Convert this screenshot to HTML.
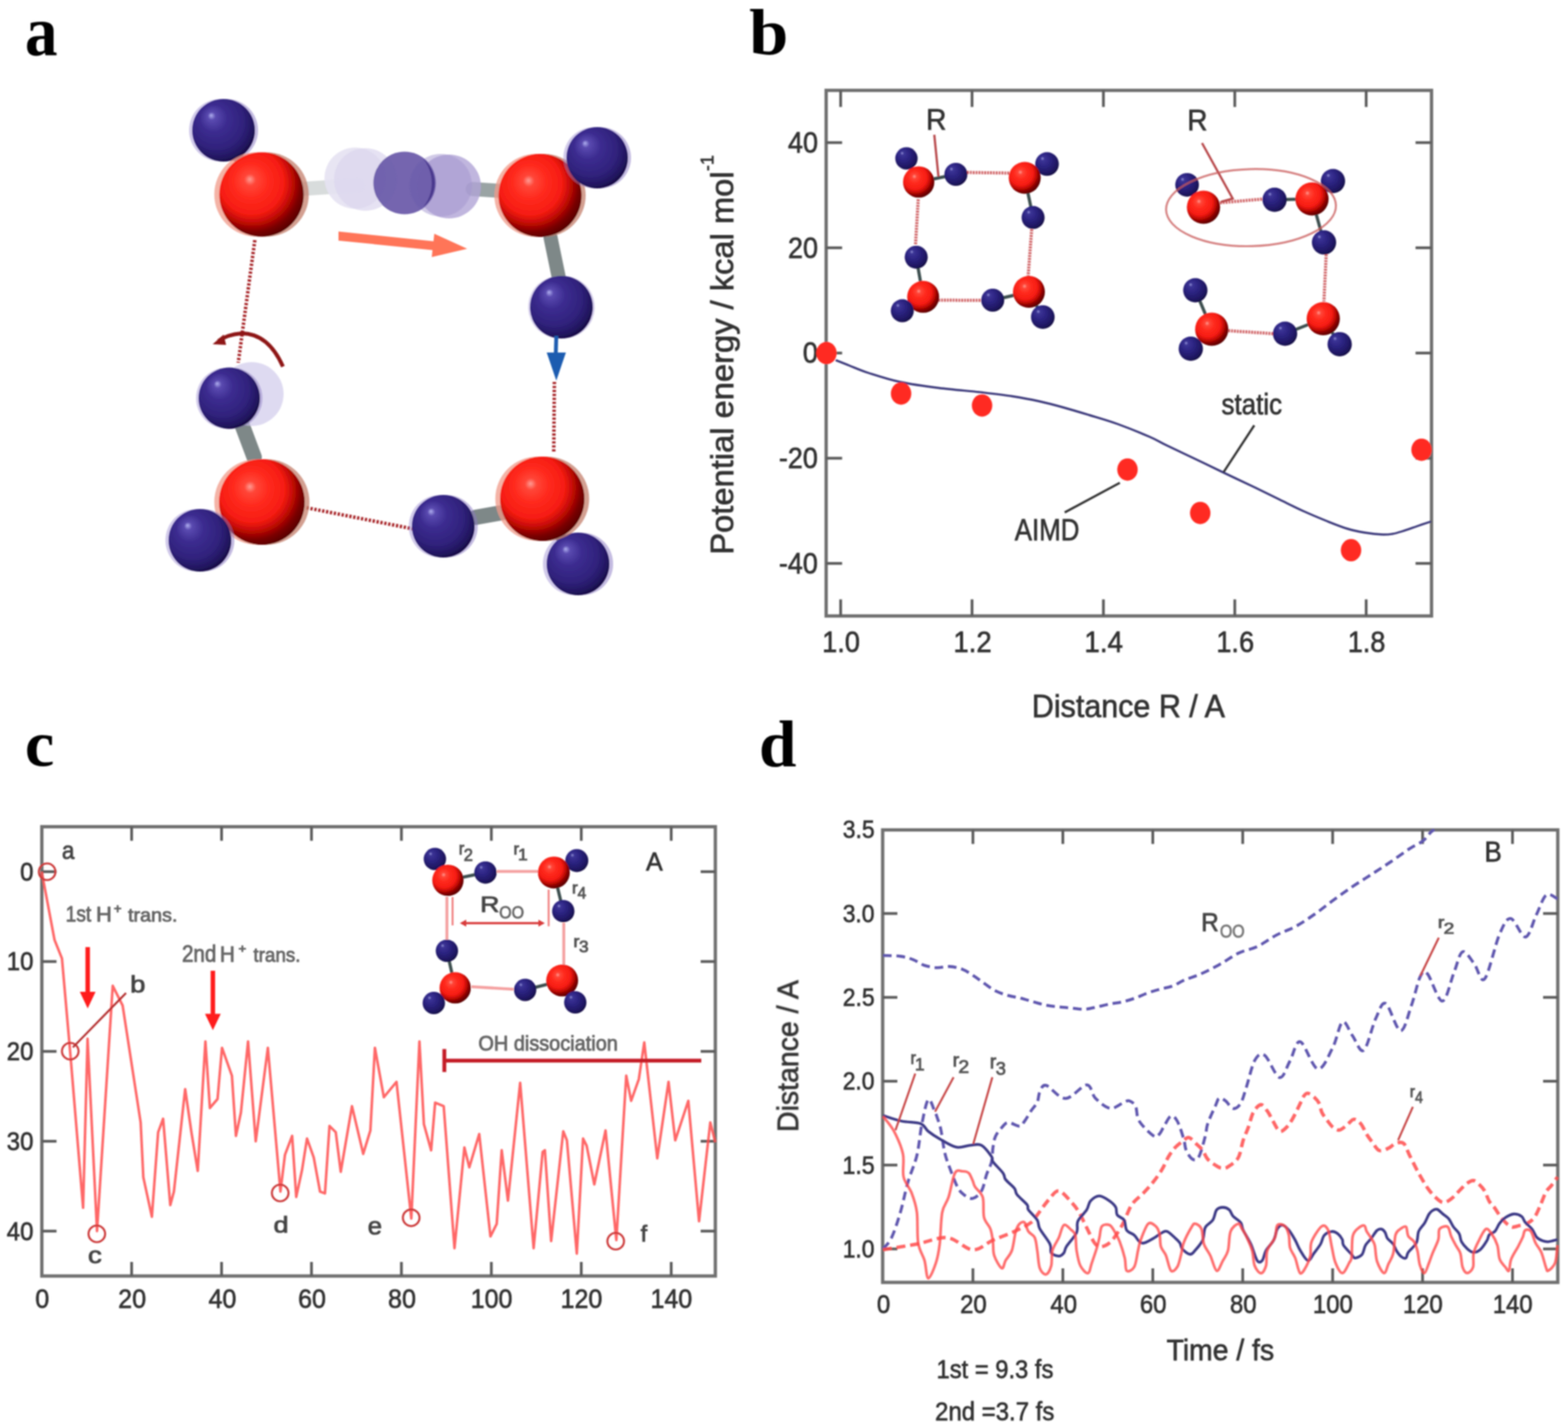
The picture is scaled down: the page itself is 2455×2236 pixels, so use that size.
<!DOCTYPE html>
<html><head><meta charset="utf-8"><title>Figure</title>
<style>html,body{margin:0;padding:0;background:#fff;}svg{display:block;}</style>
</head><body>
<svg width="2455" height="2236" viewBox="0 0 2455 2236">

<defs>
 <radialGradient id="gO" cx="0.40" cy="0.38" r="0.68" fx="0.36" fy="0.32">
  <stop offset="0" stop-color="#ff9c94"/>
  <stop offset="0.10" stop-color="#ff4638"/>
  <stop offset="0.30" stop-color="#ff2a1e"/>
  <stop offset="0.56" stop-color="#f61c12"/>
  <stop offset="0.70" stop-color="#c20a06"/>
  <stop offset="0.84" stop-color="#7a0000"/>
  <stop offset="1" stop-color="#4c0000"/>
 </radialGradient>
 <radialGradient id="gH" cx="0.42" cy="0.40" r="0.62" fx="0.30" fy="0.26">
  <stop offset="0" stop-color="#b0b0f0"/>
  <stop offset="0.10" stop-color="#5a4ab0"/>
  <stop offset="0.35" stop-color="#3c2c90"/>
  <stop offset="0.70" stop-color="#30227c"/>
  <stop offset="0.90" stop-color="#221660"/>
  <stop offset="1" stop-color="#160c44"/>
 </radialGradient>
 <radialGradient id="gHs" cx="0.42" cy="0.40" r="0.62" fx="0.30" fy="0.26">
  <stop offset="0" stop-color="#9a9ae0"/>
  <stop offset="0.12" stop-color="#3c3496"/>
  <stop offset="0.45" stop-color="#2c2482"/>
  <stop offset="0.85" stop-color="#1e1660"/>
  <stop offset="1" stop-color="#120c40"/>
 </radialGradient>
 <linearGradient id="gBond" x1="0" y1="0" x2="0" y2="1">
  <stop offset="0" stop-color="#e8ecec"/>
  <stop offset="0.5" stop-color="#a8b0b0"/>
  <stop offset="1" stop-color="#606868"/>
 </linearGradient>
</defs>

<rect x="0" y="0" width="2455" height="2236" fill="#ffffff"/>
<filter id="soft" filterUnits="userSpaceOnUse" x="0" y="0" width="2455" height="2236"><feGaussianBlur stdDeviation="1.2"/></filter>
<g filter="url(#soft)">
<text transform="translate(38.9 85.5) scale(0.9326 1)" font-family="'Liberation Serif', 'Times New Roman', serif" font-weight="bold" font-size="109.58" fill="#000"  >a</text>
<line x1="470" y1="296" x2="560" y2="290" stroke="#d8dcdc" stroke-width="22" stroke-linecap="round"/>
<line x1="740" y1="296" x2="800" y2="300" stroke="#9aa4a4" stroke-width="22" stroke-linecap="round"/>
<line x1="862" y1="372" x2="875" y2="435" stroke="#7e8888" stroke-width="22" stroke-linecap="round"/>
<line x1="380" y1="668" x2="398" y2="716" stroke="#7e8888" stroke-width="24" stroke-linecap="round"/>
<line x1="745" y1="810" x2="790" y2="802" stroke="#7e8888" stroke-width="24" stroke-linecap="round"/>
<line x1="370" y1="245" x2="392" y2="262" stroke="#5a6666" stroke-width="16" stroke-linecap="round"/>
<line x1="885" y1="292" x2="905" y2="272" stroke="#5a6666" stroke-width="16" stroke-linecap="round"/>
<line x1="360" y1="828" x2="385" y2="812" stroke="#4a5656" stroke-width="16" stroke-linecap="round"/>
<line x1="870" y1="830" x2="885" y2="852" stroke="#4a5656" stroke-width="16" stroke-linecap="round"/>
<line x1="399" y1="376" x2="373" y2="568" stroke="#a8282a" stroke-width="5.5" stroke-dasharray="3.6 2.6"/>
<line x1="480" y1="795" x2="646" y2="828" stroke="#a8282a" stroke-width="5.5" stroke-dasharray="3.6 2.6"/>
<line x1="868" y1="598" x2="867" y2="708" stroke="#a8282a" stroke-width="5.5" stroke-dasharray="3.6 2.6"/>
<circle cx="345" cy="204" r="49" fill="#9a8ad0" opacity="0.45"/><circle cx="355" cy="204" r="49" fill="#8a78c4" opacity="0.5"/><circle cx="350" cy="204" r="49" fill="url(#gH)"/>
<circle cx="401.5" cy="304.5" r="66" fill="#f09a88" opacity="0.75"/><circle cx="417.5" cy="304.5" r="66" fill="#c4806e" opacity="0.75"/><circle cx="409.5" cy="304.5" r="66" fill="url(#gO)"/>
<circle cx="556" cy="279" r="48" fill="#e6e2f2" opacity="0.9"/>
<circle cx="572" cy="281" r="49" fill="#dcd6ee" opacity="0.7"/>
<circle cx="703" cy="292" r="50" fill="#b0a4d6" opacity="0.8"/>
<circle cx="690" cy="290" r="49" fill="#a496d0" opacity="0.5"/>
<circle cx="633.5" cy="286.5" r="49" fill="#6858a8" opacity="0.92"/>
<path d="M 662 248 A 49 49 0 0 1 662 325 A 60 60 0 0 0 662 248 Z" fill="#3a2a80" opacity="0.7"/>
<circle cx="839" cy="306" r="65" fill="#f09a88" opacity="0.75"/><circle cx="852" cy="306" r="65" fill="#c4806e" opacity="0.75"/><circle cx="845.5" cy="306" r="65" fill="url(#gO)"/>
<circle cx="930" cy="247" r="48" fill="#9a8ad0" opacity="0.45"/><circle cx="940" cy="247" r="48" fill="#8a78c4" opacity="0.5"/><circle cx="935" cy="247" r="48" fill="url(#gH)"/>
<circle cx="876" cy="481" r="49" fill="#9a8ad0" opacity="0.4"/><circle cx="882" cy="481" r="49" fill="#8a78c4" opacity="0.4"/><circle cx="879" cy="481" r="49" fill="url(#gH)"/>
<circle cx="394" cy="617" r="50" fill="#cdc6ea" opacity="0.65"/>
<circle cx="355" cy="623.5" r="48" fill="#9a8ad0" opacity="0.45"/><circle cx="363" cy="623.5" r="48" fill="#8a78c4" opacity="0.45"/><circle cx="359" cy="623.5" r="48" fill="url(#gH)"/>
<circle cx="899" cy="883" r="49" fill="#9a8ad0" opacity="0.45"/><circle cx="911" cy="883" r="49" fill="#8a78c4" opacity="0.5"/><circle cx="905" cy="883" r="49" fill="url(#gH)"/>
<circle cx="402.5" cy="786" r="67" fill="#f09a88" opacity="0.75"/><circle cx="417.5" cy="786" r="67" fill="#c4806e" opacity="0.75"/><circle cx="410" cy="786" r="67" fill="url(#gO)"/>
<circle cx="308" cy="846" r="49" fill="#9a8ad0" opacity="0.45"/><circle cx="318" cy="846" r="49" fill="#8a78c4" opacity="0.5"/><circle cx="313" cy="846" r="49" fill="url(#gH)"/>
<circle cx="689" cy="824" r="49" fill="#9a8ad0" opacity="0.45"/><circle cx="699" cy="824" r="49" fill="#8a78c4" opacity="0.5"/><circle cx="694" cy="824" r="49" fill="url(#gH)"/>
<circle cx="841.5" cy="781" r="66" fill="#f09a88" opacity="0.75"/><circle cx="856.5" cy="781" r="66" fill="#c4806e" opacity="0.75"/><circle cx="849" cy="781" r="66" fill="url(#gO)"/>
<polygon points="530,362.5 681,378 681,392 530,376.7" fill="#ff7458"/>
<polygon points="680,366 731.5,389.6 676,402.5" fill="#ff7458"/>
<line x1="871" y1="526" x2="870" y2="560" stroke="#1a5cb0" stroke-width="6" />
<polygon points="856,552 886,552 871,596" fill="#1a5cb0"/>
<path d="M 443 574 Q 420 522 378 522 Q 355 524 342 534" fill="none" stroke="#8e1414" stroke-width="6"/>
<polygon points="333,539 350,524 354,540" fill="#8e1414"/>
<text transform="translate(1172.9 85) scale(1.0781 1)" font-family="'Liberation Serif', 'Times New Roman', serif" font-weight="bold" font-size="102.13" fill="#000"  >b</text>
<rect x="1293.5" y="141.5" width="947.8" height="823" fill="none" stroke="#707070" stroke-width="5.2"/>
<line x1="1316.2" y1="141.5" x2="1316.2" y2="167.5" stroke="#5c5c5c" stroke-width="4.3" />
<line x1="1316.2" y1="964.5" x2="1316.2" y2="938.5" stroke="#5c5c5c" stroke-width="4.3" />
<text transform="translate(1287.3 1020.6) scale(0.9300 1)" font-family="'Liberation Sans', Arial, sans-serif" font-weight="normal" font-size="45.63" fill="#333" stroke="#333" stroke-width="1" stroke-linejoin="round" >1.0</text>
<line x1="1521.9" y1="141.5" x2="1521.9" y2="167.5" stroke="#5c5c5c" stroke-width="4.3" />
<line x1="1521.9" y1="964.5" x2="1521.9" y2="938.5" stroke="#5c5c5c" stroke-width="4.3" />
<text transform="translate(1492.8 1021.1) scale(0.9300 1)" font-family="'Liberation Sans', Arial, sans-serif" font-weight="normal" font-size="46.29" fill="#333" stroke="#333" stroke-width="1" stroke-linejoin="round" >1.2</text>
<line x1="1727.6" y1="141.5" x2="1727.6" y2="167.5" stroke="#5c5c5c" stroke-width="4.3" />
<line x1="1727.6" y1="964.5" x2="1727.6" y2="938.5" stroke="#5c5c5c" stroke-width="4.3" />
<text transform="translate(1697.7 1021.1) scale(0.9300 1)" font-family="'Liberation Sans', Arial, sans-serif" font-weight="normal" font-size="46.96" fill="#333" stroke="#333" stroke-width="1" stroke-linejoin="round" >1.4</text>
<line x1="1933.3" y1="141.5" x2="1933.3" y2="167.5" stroke="#5c5c5c" stroke-width="4.3" />
<line x1="1933.3" y1="964.5" x2="1933.3" y2="938.5" stroke="#5c5c5c" stroke-width="4.3" />
<text transform="translate(1904.5 1020.6) scale(0.9300 1)" font-family="'Liberation Sans', Arial, sans-serif" font-weight="normal" font-size="45.63" fill="#333" stroke="#333" stroke-width="1" stroke-linejoin="round" >1.6</text>
<line x1="2139" y1="141.5" x2="2139" y2="167.5" stroke="#5c5c5c" stroke-width="4.3" />
<line x1="2139" y1="964.5" x2="2139" y2="938.5" stroke="#5c5c5c" stroke-width="4.3" />
<text transform="translate(2110.2 1020.6) scale(0.9300 1)" font-family="'Liberation Sans', Arial, sans-serif" font-weight="normal" font-size="45.63" fill="#333" stroke="#333" stroke-width="1" stroke-linejoin="round" >1.8</text>
<line x1="1293.5" y1="223.3" x2="1318.5" y2="223.3" stroke="#5c5c5c" stroke-width="4.3" />
<line x1="2241.3" y1="223.3" x2="2216.3" y2="223.3" stroke="#5c5c5c" stroke-width="4.3" />
<text transform="translate(1233.7 239) scale(0.9300 1)" font-family="'Liberation Sans', Arial, sans-serif" font-weight="normal" font-size="45.35" fill="#333" stroke="#333" stroke-width="1" stroke-linejoin="round" >40</text>
<line x1="1293.5" y1="388" x2="1318.5" y2="388" stroke="#5c5c5c" stroke-width="4.3" />
<line x1="2241.3" y1="388" x2="2216.3" y2="388" stroke="#5c5c5c" stroke-width="4.3" />
<text transform="translate(1233.7 403.7) scale(0.9300 1)" font-family="'Liberation Sans', Arial, sans-serif" font-weight="normal" font-size="45.35" fill="#333" stroke="#333" stroke-width="1" stroke-linejoin="round" >20</text>
<line x1="1293.5" y1="552.8" x2="1318.5" y2="552.8" stroke="#5c5c5c" stroke-width="4.3" />
<line x1="2241.3" y1="552.8" x2="2216.3" y2="552.8" stroke="#5c5c5c" stroke-width="4.3" />
<text transform="translate(1257.1 568.4) scale(0.9300 1)" font-family="'Liberation Sans', Arial, sans-serif" font-weight="normal" font-size="45.35" fill="#333" stroke="#333" stroke-width="1" stroke-linejoin="round" >0</text>
<line x1="1293.5" y1="717.5" x2="1318.5" y2="717.5" stroke="#5c5c5c" stroke-width="4.3" />
<line x1="2241.3" y1="717.5" x2="2216.3" y2="717.5" stroke="#5c5c5c" stroke-width="4.3" />
<text transform="translate(1219.5 733.1) scale(0.9300 1)" font-family="'Liberation Sans', Arial, sans-serif" font-weight="normal" font-size="45.35" fill="#333" stroke="#333" stroke-width="1" stroke-linejoin="round" >-20</text>
<line x1="1293.5" y1="882.2" x2="1318.5" y2="882.2" stroke="#5c5c5c" stroke-width="4.3" />
<line x1="2241.3" y1="882.2" x2="2216.3" y2="882.2" stroke="#5c5c5c" stroke-width="4.3" />
<text transform="translate(1219.5 897.8) scale(0.9300 1)" font-family="'Liberation Sans', Arial, sans-serif" font-weight="normal" font-size="45.35" fill="#333" stroke="#333" stroke-width="1" stroke-linejoin="round" >-40</text>
<text transform="translate(1615.5 1123.2) scale(0.9557 1)" font-family="'Liberation Sans', Arial, sans-serif" font-weight="normal" font-size="49.93" fill="#333" stroke="#333" stroke-width="1" stroke-linejoin="round" >Distance R / A</text>
<text transform="translate(1148.3 868.6) rotate(-90) scale(1.0268 1)" font-family="'Liberation Sans', Arial, sans-serif" font-size="49.86" fill="#333" stroke="#333" stroke-width="1" stroke-linejoin="round">Potential energy / kcal mol</text>
<text transform="translate(1117.2 267.9) rotate(-90) scale(0.9454 1)" font-family="'Liberation Sans', Arial, sans-serif" font-size="30.14" fill="#333" stroke="#333" stroke-width="0.8" stroke-linejoin="round">-1</text>
<path d="M 1308.4 563.8 C 1312 565.2 1321.4 569.1 1330 572.5 C 1338.6 575.9 1346.8 579.8 1360 584 C 1373.2 588.2 1390.7 594.1 1409 598 C 1427.3 601.9 1448.5 604.8 1470 607.5 C 1491.5 610.2 1518.8 612.3 1538 614.5 C 1557.2 616.7 1570.4 618.2 1585 620.5 C 1599.6 622.8 1612.3 625.1 1625.6 628 C 1638.9 630.9 1651.7 634.3 1665 638 C 1678.3 641.7 1691.4 645.7 1705.6 650 C 1719.8 654.3 1734.3 658.3 1750 664 C 1765.7 669.7 1787.3 678.5 1800 684 C 1812.7 689.5 1814.2 691.3 1825.9 697 C 1837.6 702.7 1855.2 710.9 1870 718 C 1884.8 725.1 1899.4 732.2 1914.4 739.4 C 1929.4 746.6 1945.2 753.9 1960 761 C 1974.8 768.1 1989.7 775.5 2003 782 C 2016.3 788.5 2027.3 794.2 2040 800 C 2052.7 805.8 2067.2 811.8 2078.9 816.5 C 2090.6 821.2 2100.3 825.1 2110 828 C 2119.7 830.9 2127.8 832.5 2137 834 C 2146.2 835.5 2157.7 836.7 2164.9 837 C 2172.1 837.3 2174.9 836.8 2180 836 C 2185.1 835.2 2188.5 834.1 2195.2 832 C 2201.9 829.9 2212.4 826.1 2220 823.5 C 2227.6 820.9 2237.3 817.7 2240.8 816.5" fill="none" stroke="#3c3a7c" stroke-width="3.4" stroke-linejoin="round"/>
<ellipse cx="1294" cy="552.8" rx="16" ry="17.5" fill="#ff2a22"/>
<ellipse cx="1410.8" cy="616.2" rx="16" ry="17.5" fill="#ff2a22"/>
<ellipse cx="1537.6" cy="634.9" rx="16" ry="17.5" fill="#ff2a22"/>
<ellipse cx="1765.3" cy="735.2" rx="16" ry="17.5" fill="#ff2a22"/>
<ellipse cx="1879.2" cy="803.2" rx="16" ry="17.5" fill="#ff2a22"/>
<ellipse cx="2115.3" cy="861.5" rx="16" ry="17.5" fill="#ff2a22"/>
<ellipse cx="2225.7" cy="704.2" rx="16" ry="17.5" fill="#ff2a22"/>
<line x1="1667" y1="802.4" x2="1753.3" y2="756" stroke="#333" stroke-width="3.5" />
<text transform="translate(1588.7 845.8) scale(0.8587 1)" font-family="'Liberation Sans', Arial, sans-serif" font-weight="normal" font-size="47.25" fill="#333" stroke="#333" stroke-width="1" stroke-linejoin="round" >AIMD</text>
<line x1="1915.7" y1="739.4" x2="1963.8" y2="666" stroke="#333" stroke-width="3.5" />
<text transform="translate(1912.5 649) scale(0.8884 1)" font-family="'Liberation Sans', Arial, sans-serif" font-weight="normal" font-size="45.71" fill="#333" stroke="#333" stroke-width="1" stroke-linejoin="round" >static</text>
<line x1="1514" y1="270" x2="1580" y2="271" stroke="#c8484c" stroke-width="5" stroke-dasharray="3 1.5" opacity="0.85"/>
<line x1="1437.7" y1="312" x2="1433.4" y2="383" stroke="#c8484c" stroke-width="5" stroke-dasharray="3 1.5" opacity="0.85"/>
<line x1="1615.3" y1="359" x2="1609.8" y2="432" stroke="#c8484c" stroke-width="5" stroke-dasharray="3 1.5" opacity="0.85"/>
<line x1="1469" y1="470" x2="1537" y2="470.3" stroke="#c8484c" stroke-width="5" stroke-dasharray="3 1.5" opacity="0.85"/>
<line x1="1438.4" y1="285" x2="1496.6" y2="273" stroke="#3e5050" stroke-width="5" />
<line x1="1438.4" y1="285" x2="1419.2" y2="248" stroke="#3e5050" stroke-width="5" />
<line x1="1604.4" y1="278.5" x2="1639.3" y2="256.8" stroke="#3e5050" stroke-width="5" />
<line x1="1604.4" y1="278.5" x2="1617.5" y2="340.6" stroke="#3e5050" stroke-width="5" />
<line x1="1611" y1="457" x2="1554.3" y2="470" stroke="#3e5050" stroke-width="5" />
<line x1="1611" y1="457" x2="1632.7" y2="496.4" stroke="#3e5050" stroke-width="5" />
<line x1="1445.4" y1="464.8" x2="1412.7" y2="486.6" stroke="#3e5050" stroke-width="5" />
<line x1="1445.4" y1="464.8" x2="1434.5" y2="402.7" stroke="#3e5050" stroke-width="5" />
<circle cx="1419.2" cy="248" r="17.5" fill="url(#gHs)"/>
<circle cx="1639.3" cy="256.8" r="18.5" fill="url(#gHs)"/>
<circle cx="1438.4" cy="285" r="24.5" fill="url(#gO)"/>
<circle cx="1496.6" cy="273" r="18" fill="url(#gHs)"/>
<circle cx="1604.4" cy="278.5" r="25" fill="url(#gO)"/>
<circle cx="1617.5" cy="340.6" r="18" fill="url(#gHs)"/>
<circle cx="1434.5" cy="402.7" r="18" fill="url(#gHs)"/>
<circle cx="1445.4" cy="464.8" r="25" fill="url(#gO)"/>
<circle cx="1412.7" cy="486.6" r="18" fill="url(#gHs)"/>
<circle cx="1554.3" cy="470" r="18" fill="url(#gHs)"/>
<circle cx="1611" cy="457" r="25" fill="url(#gO)"/>
<circle cx="1632.7" cy="496.4" r="18.5" fill="url(#gHs)"/>
<line x1="1462.8" y1="211" x2="1469.3" y2="276.4" stroke="#b8484c" stroke-width="3.5" />
<text transform="translate(1450 203.1) scale(0.9525 1)" font-family="'Liberation Sans', Arial, sans-serif" font-weight="normal" font-size="46.23" fill="#333" stroke="#333" stroke-width="1" stroke-linejoin="round" >R</text>
<line x1="1910" y1="317.5" x2="1978" y2="311.6" stroke="#c8484c" stroke-width="5" stroke-dasharray="3 1.5" opacity="0.85"/>
<line x1="2076.4" y1="398.3" x2="2072.9" y2="472" stroke="#c8484c" stroke-width="5" stroke-dasharray="3 1.5" opacity="0.85"/>
<line x1="1923" y1="517.8" x2="1994.4" y2="522.5" stroke="#c8484c" stroke-width="5" stroke-dasharray="3 1.5" opacity="0.85"/>
<line x1="1884.3" y1="324.5" x2="1858.6" y2="289.4" stroke="#3e5050" stroke-width="5" />
<line x1="2054.2" y1="311.6" x2="1995.6" y2="312.8" stroke="#3e5050" stroke-width="5" />
<line x1="2054.2" y1="311.6" x2="2087" y2="283.5" stroke="#3e5050" stroke-width="5" />
<line x1="2054.2" y1="311.6" x2="2073" y2="379.6" stroke="#3e5050" stroke-width="5" />
<line x1="2071.8" y1="499" x2="2012" y2="522.5" stroke="#3e5050" stroke-width="5" />
<line x1="2071.8" y1="499" x2="2097.5" y2="538.9" stroke="#3e5050" stroke-width="5" />
<line x1="1897.2" y1="515.5" x2="1864.4" y2="546" stroke="#3e5050" stroke-width="5" />
<line x1="1897.2" y1="515.5" x2="1871.5" y2="454.5" stroke="#3e5050" stroke-width="5" />
<circle cx="1858.6" cy="289.4" r="18.5" fill="url(#gHs)"/>
<circle cx="1884.3" cy="324.5" r="26" fill="url(#gO)"/>
<circle cx="1995.6" cy="312.8" r="19" fill="url(#gHs)"/>
<circle cx="2087" cy="283.5" r="19" fill="url(#gHs)"/>
<circle cx="2054.2" cy="311.6" r="26" fill="url(#gO)"/>
<circle cx="2073" cy="379.6" r="19" fill="url(#gHs)"/>
<circle cx="1871.5" cy="454.5" r="19" fill="url(#gHs)"/>
<circle cx="1897.2" cy="515.5" r="26" fill="url(#gO)"/>
<circle cx="1864.4" cy="546" r="19" fill="url(#gHs)"/>
<circle cx="2012" cy="522.5" r="19" fill="url(#gHs)"/>
<circle cx="2071.8" cy="499" r="26" fill="url(#gO)"/>
<circle cx="2097.5" cy="538.9" r="19" fill="url(#gHs)"/>
<polyline points="1882,224 1930,311 1912,316" fill="none" stroke="#b8484c" stroke-width="3.5"/>
<ellipse cx="1958.7" cy="325.1" rx="133" ry="60.3" fill="none" stroke="#c85a5a" stroke-width="3.2" opacity="0.75" transform="rotate(-1.5 1958.7 325.1)"/>
<text transform="translate(1859 203.5) scale(0.9422 1)" font-family="'Liberation Sans', Arial, sans-serif" font-weight="normal" font-size="46.38" fill="#333" stroke="#333" stroke-width="1" stroke-linejoin="round" >R</text>
<text transform="translate(38.9 1199) scale(1.0152 1)" font-family="'Liberation Serif', 'Times New Roman', serif" font-weight="bold" font-size="102.08" fill="#000"  >c</text>
<rect x="65.5" y="1294.5" width="1054.5" height="703.5" fill="none" stroke="#707070" stroke-width="5.2"/>
<text transform="translate(55.3 2048) scale(0.9300 1)" font-family="'Liberation Sans', Arial, sans-serif" font-weight="normal" font-size="42.11" fill="#333" stroke="#333" stroke-width="1" stroke-linejoin="round" >0</text>
<line x1="206.1" y1="1294.5" x2="206.1" y2="1316.5" stroke="#5c5c5c" stroke-width="4.3" />
<line x1="206.1" y1="1998" x2="206.1" y2="1976" stroke="#5c5c5c" stroke-width="4.3" />
<text transform="translate(185.1 2048) scale(0.9300 1)" font-family="'Liberation Sans', Arial, sans-serif" font-weight="normal" font-size="42.11" fill="#333" stroke="#333" stroke-width="1" stroke-linejoin="round" >20</text>
<line x1="346.9" y1="1294.5" x2="346.9" y2="1316.5" stroke="#5c5c5c" stroke-width="4.3" />
<line x1="346.9" y1="1998" x2="346.9" y2="1976" stroke="#5c5c5c" stroke-width="4.3" />
<text transform="translate(326.5 2048) scale(0.9300 1)" font-family="'Liberation Sans', Arial, sans-serif" font-weight="normal" font-size="42.11" fill="#333" stroke="#333" stroke-width="1" stroke-linejoin="round" >40</text>
<line x1="487.7" y1="1294.5" x2="487.7" y2="1316.5" stroke="#5c5c5c" stroke-width="4.3" />
<line x1="487.7" y1="1998" x2="487.7" y2="1976" stroke="#5c5c5c" stroke-width="4.3" />
<text transform="translate(466.7 2048) scale(0.9300 1)" font-family="'Liberation Sans', Arial, sans-serif" font-weight="normal" font-size="42.11" fill="#333" stroke="#333" stroke-width="1" stroke-linejoin="round" >60</text>
<line x1="628.5" y1="1294.5" x2="628.5" y2="1316.5" stroke="#5c5c5c" stroke-width="4.3" />
<line x1="628.5" y1="1998" x2="628.5" y2="1976" stroke="#5c5c5c" stroke-width="4.3" />
<text transform="translate(607.6 2048) scale(0.9300 1)" font-family="'Liberation Sans', Arial, sans-serif" font-weight="normal" font-size="42.11" fill="#333" stroke="#333" stroke-width="1" stroke-linejoin="round" >80</text>
<line x1="769.3" y1="1294.5" x2="769.3" y2="1316.5" stroke="#5c5c5c" stroke-width="4.3" />
<line x1="769.3" y1="1998" x2="769.3" y2="1976" stroke="#5c5c5c" stroke-width="4.3" />
<text transform="translate(736.9 2048) scale(0.9300 1)" font-family="'Liberation Sans', Arial, sans-serif" font-weight="normal" font-size="42.11" fill="#333" stroke="#333" stroke-width="1" stroke-linejoin="round" >100</text>
<line x1="910.1" y1="1294.5" x2="910.1" y2="1316.5" stroke="#5c5c5c" stroke-width="4.3" />
<line x1="910.1" y1="1998" x2="910.1" y2="1976" stroke="#5c5c5c" stroke-width="4.3" />
<text transform="translate(877.7 2048) scale(0.9300 1)" font-family="'Liberation Sans', Arial, sans-serif" font-weight="normal" font-size="42.11" fill="#333" stroke="#333" stroke-width="1" stroke-linejoin="round" >120</text>
<line x1="1050.9" y1="1294.5" x2="1050.9" y2="1316.5" stroke="#5c5c5c" stroke-width="4.3" />
<line x1="1050.9" y1="1998" x2="1050.9" y2="1976" stroke="#5c5c5c" stroke-width="4.3" />
<text transform="translate(1018.5 2048) scale(0.9300 1)" font-family="'Liberation Sans', Arial, sans-serif" font-weight="normal" font-size="42.11" fill="#333" stroke="#333" stroke-width="1" stroke-linejoin="round" >140</text>
<line x1="65.5" y1="1364.9" x2="88.5" y2="1364.9" stroke="#5c5c5c" stroke-width="4.3" />
<line x1="1120" y1="1364.9" x2="1097" y2="1364.9" stroke="#5c5c5c" stroke-width="4.3" />
<text transform="translate(31.5 1378.7) scale(0.9300 1)" font-family="'Liberation Sans', Arial, sans-serif" font-weight="normal" font-size="40.42" fill="#333" stroke="#333" stroke-width="1" stroke-linejoin="round" >0</text>
<line x1="65.5" y1="1505.6" x2="88.5" y2="1505.6" stroke="#5c5c5c" stroke-width="4.3" />
<line x1="1120" y1="1505.6" x2="1097" y2="1505.6" stroke="#5c5c5c" stroke-width="4.3" />
<text transform="translate(10.6 1519.4) scale(0.9300 1)" font-family="'Liberation Sans', Arial, sans-serif" font-weight="normal" font-size="40.42" fill="#333" stroke="#333" stroke-width="1" stroke-linejoin="round" >10</text>
<line x1="65.5" y1="1646.3" x2="88.5" y2="1646.3" stroke="#5c5c5c" stroke-width="4.3" />
<line x1="1120" y1="1646.3" x2="1097" y2="1646.3" stroke="#5c5c5c" stroke-width="4.3" />
<text transform="translate(10.6 1660.1) scale(0.9300 1)" font-family="'Liberation Sans', Arial, sans-serif" font-weight="normal" font-size="40.42" fill="#333" stroke="#333" stroke-width="1" stroke-linejoin="round" >20</text>
<line x1="65.5" y1="1787" x2="88.5" y2="1787" stroke="#5c5c5c" stroke-width="4.3" />
<line x1="1120" y1="1787" x2="1097" y2="1787" stroke="#5c5c5c" stroke-width="4.3" />
<text transform="translate(10.6 1800.8) scale(0.9300 1)" font-family="'Liberation Sans', Arial, sans-serif" font-weight="normal" font-size="40.42" fill="#333" stroke="#333" stroke-width="1" stroke-linejoin="round" >30</text>
<line x1="65.5" y1="1927.7" x2="88.5" y2="1927.7" stroke="#5c5c5c" stroke-width="4.3" />
<line x1="1120" y1="1927.7" x2="1097" y2="1927.7" stroke="#5c5c5c" stroke-width="4.3" />
<text transform="translate(10.6 1941.5) scale(0.9300 1)" font-family="'Liberation Sans', Arial, sans-serif" font-weight="normal" font-size="40.42" fill="#333" stroke="#333" stroke-width="1" stroke-linejoin="round" >40</text>
<path d="M 65.3 1364.9 L 85.4 1471.8 L 97 1500.7 L 110.4 1653.3 L 130.1 1891.1 L 137.1 1626.6 L 151.9 1927.7 L 176.5 1543.6 L 192 1574.5 L 220.2 1757.5 L 224.4 1843.3 L 237.8 1905.2 L 247.6 1772.9 L 255.4 1751.8 L 266.6 1886.9 L 272.3 1865.8 L 289.9 1705.4 L 299.7 1772.9 L 309.6 1833.4 L 321.6 1630.8 L 328.6 1734.9 L 340.6 1720.9 L 347.6 1640.7 L 363.1 1684.3 L 369.4 1778.6 L 377.2 1742 L 388.4 1630.8 L 400.4 1787 L 419.4 1640.7 L 439.1 1865.8 L 446.2 1808.1 L 457.4 1778.6 L 463.8 1874.2 L 472.9 1832 L 480.7 1782.8 L 491.2 1812.3 L 501.1 1865.8 L 508.8 1868.6 L 515.9 1763.1 L 525.7 1772.9 L 533.5 1834.8 L 551.1 1732.1 L 568.7 1806.7 L 579.9 1770.1 L 587 1640.7 L 601 1718.1 L 620.8 1694.1 L 644 1908 L 656.7 1630.8 L 663.7 1760.3 L 675 1801.1 L 681.3 1726.5 L 694.7 1732.1 L 711.6 1954.4 L 727.1 1796.8 L 734.8 1827.8 L 750.3 1775.7 L 767.9 1936.1 L 777.7 1916.4 L 785.5 1801.1 L 795.3 1879.9 L 814.4 1695.5 L 835.5 1954.4 L 849.6 1803.9 L 853.1 1801.1 L 862.9 1943.2 L 881.9 1771.5 L 887.6 1785.6 L 903.1 1962.9 L 912.9 1782.8 L 918.5 1794 L 930.5 1854.5 L 948.1 1770.1 L 965 1941.8 L 980.5 1684.3 L 988.2 1723.7 L 1000.2 1689.9 L 1008.7 1632.2 L 1029.1 1813.7 L 1046.7 1694.1 L 1057.2 1785.6 L 1077.7 1723.7 L 1094.5 1912.2 L 1112.1 1757.5 L 1119.9 1788.4" fill="none" stroke="#ff4c4c" stroke-width="4" stroke-linejoin="round" opacity="0.85"/>
<circle cx="73.8" cy="1365" r="13" fill="none" stroke="#cc3a3a" stroke-width="3.2"/>
<circle cx="110" cy="1646" r="13" fill="none" stroke="#cc3a3a" stroke-width="3.2"/>
<circle cx="151.6" cy="1932" r="13" fill="none" stroke="#cc3a3a" stroke-width="3.2"/>
<circle cx="438.7" cy="1868" r="13" fill="none" stroke="#cc3a3a" stroke-width="3.2"/>
<circle cx="643.8" cy="1906.8" r="13" fill="none" stroke="#cc3a3a" stroke-width="3.2"/>
<circle cx="964" cy="1943.5" r="13" fill="none" stroke="#cc3a3a" stroke-width="3.2"/>
<text transform="translate(96.9 1344.8) scale(0.8867 1)" font-family="'Liberation Sans', Arial, sans-serif" font-weight="normal" font-size="39.64" fill="#444" stroke="#444" stroke-width="1.2" stroke-linejoin="round" >a</text>
<text transform="translate(203.8 1553.6) scale(1.1564 1)" font-family="'Liberation Sans', Arial, sans-serif" font-weight="normal" font-size="37.28" fill="#444" stroke="#444" stroke-width="1.2" stroke-linejoin="round" >b</text>
<text transform="translate(137.7 1978.3) scale(1.1652 1)" font-family="'Liberation Sans', Arial, sans-serif" font-weight="normal" font-size="37.09" fill="#444" stroke="#444" stroke-width="1.2" stroke-linejoin="round" >c</text>
<text transform="translate(428.2 1930.1) scale(1.2028 1)" font-family="'Liberation Sans', Arial, sans-serif" font-weight="normal" font-size="35.10" fill="#444" stroke="#444" stroke-width="1.2" stroke-linejoin="round" >d</text>
<text transform="translate(575.7 1932.8) scale(1.0145 1)" font-family="'Liberation Sans', Arial, sans-serif" font-weight="normal" font-size="39.64" fill="#444" stroke="#444" stroke-width="1.2" stroke-linejoin="round" >e</text>
<text transform="translate(1003 1944.4) scale(1.0392 1)" font-family="'Liberation Sans', Arial, sans-serif" font-weight="normal" font-size="35.59" fill="#444" stroke="#444" stroke-width="1.2" stroke-linejoin="round" >f</text>
<line x1="114.1" y1="1640" x2="197.3" y2="1554.9" stroke="#b43030" stroke-width="3.2" />
<line x1="137.3" y1="1483" x2="137.3" y2="1556" stroke="#ff1a1a" stroke-width="7" />
<polygon points="125,1553 149.6,1553 137.3,1579" fill="#ff1a1a"/>
<line x1="333.3" y1="1520" x2="333.3" y2="1590" stroke="#ff1a1a" stroke-width="7" />
<polygon points="321,1587.5 345.6,1587.5 333.3,1613" fill="#ff1a1a"/>
<text transform="translate(102.8 1443.1) scale(0.8701 1)" font-family="'Liberation Sans', Arial, sans-serif" font-weight="normal" font-size="34.57" fill="#666" stroke="#666" stroke-width="1.2" stroke-linejoin="round" >1st</text>
<text transform="translate(150.2 1443.1) scale(1.0476 1)" font-family="'Liberation Sans', Arial, sans-serif" font-weight="normal" font-size="32.90" fill="#666" stroke="#666" stroke-width="1.2" stroke-linejoin="round" >H</text>
<text transform="translate(178.3 1429.5) scale(1.0528 1)" font-family="'Liberation Sans', Arial, sans-serif" font-weight="normal" font-size="19.39" fill="#666" stroke="#666" stroke-width="1.5" stroke-linejoin="round" >+</text>
<text transform="translate(200.4 1443.1) scale(1.0418 1)" font-family="'Liberation Sans', Arial, sans-serif" font-weight="normal" font-size="29.70" fill="#666" stroke="#666" stroke-width="1.2" stroke-linejoin="round" >trans.</text>
<text transform="translate(284.9 1505.8) scale(0.8965 1)" font-family="'Liberation Sans', Arial, sans-serif" font-weight="normal" font-size="36.05" fill="#666" stroke="#666" stroke-width="1.2" stroke-linejoin="round" >2nd</text>
<text transform="translate(344.3 1505.9) scale(0.9383 1)" font-family="'Liberation Sans', Arial, sans-serif" font-weight="normal" font-size="34.64" fill="#666" stroke="#666" stroke-width="1.2" stroke-linejoin="round" >H</text>
<text transform="translate(373.4 1492) scale(1.0755 1)" font-family="'Liberation Sans', Arial, sans-serif" font-weight="normal" font-size="18.98" fill="#666" stroke="#666" stroke-width="1.5" stroke-linejoin="round" >+</text>
<text transform="translate(396.7 1505.9) scale(0.9367 1)" font-family="'Liberation Sans', Arial, sans-serif" font-weight="normal" font-size="31.52" fill="#666" stroke="#666" stroke-width="1.2" stroke-linejoin="round" >trans.</text>
<text transform="translate(749 1645.1) scale(0.9512 1)" font-family="'Liberation Sans', Arial, sans-serif" font-weight="normal" font-size="32.79" fill="#666" stroke="#666" stroke-width="1.2" stroke-linejoin="round" >OH dissociation</text>
<line x1="695.5" y1="1660.7" x2="1098" y2="1660.7" stroke="#c41e26" stroke-width="6" />
<line x1="695.7" y1="1642.6" x2="695.7" y2="1678.6" stroke="#c41e26" stroke-width="6" />
<text transform="translate(1011.5 1363) scale(0.9635 1)" font-family="'Liberation Sans', Arial, sans-serif" font-weight="normal" font-size="40.58" fill="#333" stroke="#333" stroke-width="1" stroke-linejoin="round" >A</text>
<line x1="778" y1="1364.6" x2="843" y2="1364.6" stroke="#f4a0a0" stroke-width="4.5" />
<line x1="699.7" y1="1404" x2="699.7" y2="1471" stroke="#f4a0a0" stroke-width="4.5" />
<line x1="882.7" y1="1445" x2="882.7" y2="1511" stroke="#f4a0a0" stroke-width="4.5" />
<line x1="738" y1="1545" x2="804" y2="1549" stroke="#f4a0a0" stroke-width="4.5" />
<line x1="708.6" y1="1404.6" x2="708.6" y2="1449" stroke="#f08080" stroke-width="3" />
<line x1="859" y1="1393" x2="859" y2="1450.4" stroke="#f08080" stroke-width="3" />
<line x1="724" y1="1445.4" x2="849" y2="1445.4" stroke="#d83a3a" stroke-width="3.5" />
<polygon points="720,1445.4 730,1440 730,1451" fill="#d83a3a"/>
<polygon points="853,1445.4 843,1440 843,1451" fill="#d83a3a"/>
<line x1="701.3" y1="1378.4" x2="760.1" y2="1366.2" stroke="#3e5050" stroke-width="5" />
<line x1="701.3" y1="1378.4" x2="680.9" y2="1345" stroke="#3e5050" stroke-width="5" />
<line x1="867.2" y1="1366.2" x2="903.1" y2="1347.4" stroke="#3e5050" stroke-width="5" />
<line x1="867.2" y1="1366.2" x2="881.9" y2="1426.7" stroke="#3e5050" stroke-width="5" />
<line x1="880.2" y1="1535.3" x2="822.2" y2="1550" stroke="#3e5050" stroke-width="5" />
<line x1="880.2" y1="1535.3" x2="900.7" y2="1569.6" stroke="#3e5050" stroke-width="5" />
<line x1="712.7" y1="1546.8" x2="679.2" y2="1570.5" stroke="#3e5050" stroke-width="5" />
<line x1="712.7" y1="1546.8" x2="699.7" y2="1488.8" stroke="#3e5050" stroke-width="5" />
<circle cx="680.9" cy="1345" r="17.5" fill="url(#gHs)"/>
<circle cx="701.3" cy="1378.4" r="24.5" fill="url(#gO)"/>
<circle cx="760.1" cy="1366.2" r="17.5" fill="url(#gHs)"/>
<circle cx="903.1" cy="1347.4" r="18" fill="url(#gHs)"/>
<circle cx="867.2" cy="1366.2" r="25" fill="url(#gO)"/>
<circle cx="881.9" cy="1426.7" r="17.5" fill="url(#gHs)"/>
<circle cx="699.7" cy="1488.8" r="17.5" fill="url(#gHs)"/>
<circle cx="712.7" cy="1546.8" r="24.5" fill="url(#gO)"/>
<circle cx="679.2" cy="1570.5" r="17.5" fill="url(#gHs)"/>
<circle cx="822.2" cy="1550" r="17.5" fill="url(#gHs)"/>
<circle cx="880.2" cy="1535.3" r="25" fill="url(#gO)"/>
<circle cx="900.7" cy="1569.6" r="17.5" fill="url(#gHs)"/>
<text transform="translate(751.7 1428.4) scale(1.1643 1)" font-family="'Liberation Sans', Arial, sans-serif" font-weight="normal" font-size="35.94" fill="#444" stroke="#444" stroke-width="1.2" stroke-linejoin="round" >R</text>
<text transform="translate(781.4 1437.5) scale(0.9099 1)" font-family="'Liberation Sans', Arial, sans-serif" font-weight="normal" font-size="27.61" fill="#666" stroke="#666" stroke-width="1" stroke-linejoin="round" >OO</text>
<text transform="translate(718.2 1338.2) scale(0.9602 1)" font-family="'Liberation Sans', Arial, sans-serif" font-weight="normal" font-size="27.29" fill="#555" stroke="#555" stroke-width="1.2" stroke-linejoin="round" >r</text><text transform="translate(725.9 1347.6) scale(0.9580 1)" font-family="'Liberation Sans', Arial, sans-serif" font-weight="normal" font-size="27.20" fill="#555" stroke="#555" stroke-width="1.2" stroke-linejoin="round" >2</text>
<text transform="translate(803.9 1338) scale(1.0367 1)" font-family="'Liberation Sans', Arial, sans-serif" font-weight="normal" font-size="25.43" fill="#555" stroke="#555" stroke-width="1.2" stroke-linejoin="round" >r</text><text transform="translate(810.9 1346.8) scale(1.0646 1)" font-family="'Liberation Sans', Arial, sans-serif" font-weight="normal" font-size="25.74" fill="#555" stroke="#555" stroke-width="1.2" stroke-linejoin="round" >1</text>
<text transform="translate(895.4 1398.5) scale(1.0785 1)" font-family="'Liberation Sans', Arial, sans-serif" font-weight="normal" font-size="25.43" fill="#555" stroke="#555" stroke-width="1.2" stroke-linejoin="round" >r</text><text transform="translate(904.3 1407.3) scale(0.9515 1)" font-family="'Liberation Sans', Arial, sans-serif" font-weight="normal" font-size="25.74" fill="#555" stroke="#555" stroke-width="1.2" stroke-linejoin="round" >4</text>
<text transform="translate(897.7 1482.6) scale(1.1263 1)" font-family="'Liberation Sans', Arial, sans-serif" font-weight="normal" font-size="25.43" fill="#555" stroke="#555" stroke-width="1.2" stroke-linejoin="round" >r</text><text transform="translate(906.4 1491.1) scale(1.0840 1)" font-family="'Liberation Sans', Arial, sans-serif" font-weight="normal" font-size="25.01" fill="#555" stroke="#555" stroke-width="1.2" stroke-linejoin="round" >3</text>
<text transform="translate(1188.3 1200) scale(1.0212 1)" font-family="'Liberation Serif', 'Times New Roman', serif" font-weight="bold" font-size="103.55" fill="#000"  >d</text>
<rect x="1382" y="1299.5" width="1057" height="708.5" fill="none" stroke="#707070" stroke-width="5.2"/>
<text transform="translate(1373 2056.4) scale(0.9300 1)" font-family="'Liberation Sans', Arial, sans-serif" font-weight="normal" font-size="40.28" fill="#333" stroke="#333" stroke-width="1" stroke-linejoin="round" >0</text>
<line x1="1523.3" y1="1299.5" x2="1523.3" y2="1321.5" stroke="#5c5c5c" stroke-width="4.3" />
<line x1="1523.3" y1="2008" x2="1523.3" y2="1986" stroke="#5c5c5c" stroke-width="4.3" />
<text transform="translate(1503.2 2056.4) scale(0.9300 1)" font-family="'Liberation Sans', Arial, sans-serif" font-weight="normal" font-size="40.28" fill="#333" stroke="#333" stroke-width="1" stroke-linejoin="round" >20</text>
<line x1="1664.1" y1="1299.5" x2="1664.1" y2="1321.5" stroke="#5c5c5c" stroke-width="4.3" />
<line x1="1664.1" y1="2008" x2="1664.1" y2="1986" stroke="#5c5c5c" stroke-width="4.3" />
<text transform="translate(1644.6 2056.4) scale(0.9300 1)" font-family="'Liberation Sans', Arial, sans-serif" font-weight="normal" font-size="40.28" fill="#333" stroke="#333" stroke-width="1" stroke-linejoin="round" >40</text>
<line x1="1804.9" y1="1299.5" x2="1804.9" y2="1321.5" stroke="#5c5c5c" stroke-width="4.3" />
<line x1="1804.9" y1="2008" x2="1804.9" y2="1986" stroke="#5c5c5c" stroke-width="4.3" />
<text transform="translate(1784.8 2056.4) scale(0.9300 1)" font-family="'Liberation Sans', Arial, sans-serif" font-weight="normal" font-size="40.28" fill="#333" stroke="#333" stroke-width="1" stroke-linejoin="round" >60</text>
<line x1="1945.7" y1="1299.5" x2="1945.7" y2="1321.5" stroke="#5c5c5c" stroke-width="4.3" />
<line x1="1945.7" y1="2008" x2="1945.7" y2="1986" stroke="#5c5c5c" stroke-width="4.3" />
<text transform="translate(1925.7 2056.4) scale(0.9300 1)" font-family="'Liberation Sans', Arial, sans-serif" font-weight="normal" font-size="40.28" fill="#333" stroke="#333" stroke-width="1" stroke-linejoin="round" >80</text>
<line x1="2086.5" y1="1299.5" x2="2086.5" y2="1321.5" stroke="#5c5c5c" stroke-width="4.3" />
<line x1="2086.5" y1="2008" x2="2086.5" y2="1986" stroke="#5c5c5c" stroke-width="4.3" />
<text transform="translate(2055.6 2056.4) scale(0.9300 1)" font-family="'Liberation Sans', Arial, sans-serif" font-weight="normal" font-size="40.28" fill="#333" stroke="#333" stroke-width="1" stroke-linejoin="round" >100</text>
<line x1="2227.3" y1="1299.5" x2="2227.3" y2="1321.5" stroke="#5c5c5c" stroke-width="4.3" />
<line x1="2227.3" y1="2008" x2="2227.3" y2="1986" stroke="#5c5c5c" stroke-width="4.3" />
<text transform="translate(2196.4 2056.4) scale(0.9300 1)" font-family="'Liberation Sans', Arial, sans-serif" font-weight="normal" font-size="40.28" fill="#333" stroke="#333" stroke-width="1" stroke-linejoin="round" >120</text>
<line x1="2368.1" y1="1299.5" x2="2368.1" y2="1321.5" stroke="#5c5c5c" stroke-width="4.3" />
<line x1="2368.1" y1="2008" x2="2368.1" y2="1986" stroke="#5c5c5c" stroke-width="4.3" />
<text transform="translate(2337.2 2056.4) scale(0.9300 1)" font-family="'Liberation Sans', Arial, sans-serif" font-weight="normal" font-size="40.28" fill="#333" stroke="#333" stroke-width="1" stroke-linejoin="round" >140</text>
<line x1="1382" y1="1955.6" x2="1405" y2="1955.6" stroke="#5c5c5c" stroke-width="4.3" />
<line x1="2439" y1="1955.6" x2="2416" y2="1955.6" stroke="#5c5c5c" stroke-width="4.3" />
<text transform="translate(1319.4 1968.9) scale(0.9300 1)" font-family="'Liberation Sans', Arial, sans-serif" font-weight="normal" font-size="38.59" fill="#333" stroke="#333" stroke-width="1" stroke-linejoin="round" >1.0</text>
<line x1="1382" y1="1824.3" x2="1405" y2="1824.3" stroke="#5c5c5c" stroke-width="4.3" />
<line x1="2439" y1="1824.3" x2="2416" y2="1824.3" stroke="#5c5c5c" stroke-width="4.3" />
<text transform="translate(1318.9 1837.6) scale(0.9300 1)" font-family="'Liberation Sans', Arial, sans-serif" font-weight="normal" font-size="39.14" fill="#333" stroke="#333" stroke-width="1" stroke-linejoin="round" >1.5</text>
<line x1="1382" y1="1693" x2="1405" y2="1693" stroke="#5c5c5c" stroke-width="4.3" />
<line x1="2439" y1="1693" x2="2416" y2="1693" stroke="#5c5c5c" stroke-width="4.3" />
<text transform="translate(1319.4 1706.3) scale(0.9300 1)" font-family="'Liberation Sans', Arial, sans-serif" font-weight="normal" font-size="38.59" fill="#333" stroke="#333" stroke-width="1" stroke-linejoin="round" >2.0</text>
<line x1="1382" y1="1561.7" x2="1405" y2="1561.7" stroke="#5c5c5c" stroke-width="4.3" />
<line x1="2439" y1="1561.7" x2="2416" y2="1561.7" stroke="#5c5c5c" stroke-width="4.3" />
<text transform="translate(1319.5 1575) scale(0.9300 1)" font-family="'Liberation Sans', Arial, sans-serif" font-weight="normal" font-size="38.59" fill="#333" stroke="#333" stroke-width="1" stroke-linejoin="round" >2.5</text>
<line x1="1382" y1="1430.4" x2="1405" y2="1430.4" stroke="#5c5c5c" stroke-width="4.3" />
<line x1="2439" y1="1430.4" x2="2416" y2="1430.4" stroke="#5c5c5c" stroke-width="4.3" />
<text transform="translate(1319.4 1443.7) scale(0.9300 1)" font-family="'Liberation Sans', Arial, sans-serif" font-weight="normal" font-size="38.59" fill="#333" stroke="#333" stroke-width="1" stroke-linejoin="round" >3.0</text>
<text transform="translate(1319.5 1312.4) scale(0.9300 1)" font-family="'Liberation Sans', Arial, sans-serif" font-weight="normal" font-size="38.59" fill="#333" stroke="#333" stroke-width="1" stroke-linejoin="round" >3.5</text>
<text transform="translate(1826.6 2130) scale(0.9669 1)" font-family="'Liberation Sans', Arial, sans-serif" font-weight="normal" font-size="45.85" fill="#333" stroke="#333" stroke-width="1" stroke-linejoin="round" >Time / fs</text>
<text transform="translate(1466.2 2158.3) scale(0.9367 1)" font-family="'Liberation Sans', Arial, sans-serif" font-weight="normal" font-size="39.73" fill="#333" stroke="#333" stroke-width="1" stroke-linejoin="round" >1st = 9.3 fs</text>
<text transform="translate(1464.1 2223.8) scale(0.9446 1)" font-family="'Liberation Sans', Arial, sans-serif" font-weight="normal" font-size="39.73" fill="#333" stroke="#333" stroke-width="1" stroke-linejoin="round" >2nd =3.7 fs</text>
<text transform="translate(1249.6 1772.5) rotate(-90) scale(0.9580 1)" font-family="'Liberation Sans', Arial, sans-serif" font-size="46.52" fill="#333" stroke="#333" stroke-width="1" stroke-linejoin="round">Distance / A</text>
<text transform="translate(2324.3 1349) scale(0.9329 1)" font-family="'Liberation Sans', Arial, sans-serif" font-weight="normal" font-size="43.48" fill="#333" stroke="#333" stroke-width="1" stroke-linejoin="round" >B</text>
<text transform="translate(1880.8 1457.9) scale(0.9530 1)" font-family="'Liberation Sans', Arial, sans-serif" font-weight="normal" font-size="39.86" fill="#444" stroke="#444" stroke-width="1.2" stroke-linejoin="round" >R</text>
<text transform="translate(1909.9 1467.7) scale(0.8273 1)" font-family="'Liberation Sans', Arial, sans-serif" font-weight="normal" font-size="30.28" fill="#777" stroke="#777" stroke-width="1" stroke-linejoin="round" >OO</text>
<path d="M 1382.5 1496 C 1387 1496.3 1401.9 1496.3 1409.7 1497.4 C 1417.6 1498.5 1423.4 1500.3 1429.6 1502.6 C 1435.8 1505 1440.8 1509.4 1447 1511.5 C 1453.2 1513.6 1460.2 1514.9 1466.8 1515.2 C 1473.4 1515.5 1480 1513 1486.6 1513.4 C 1493.2 1513.8 1500.3 1515.2 1506.5 1517.6 C 1512.7 1519.9 1518.1 1523.8 1523.9 1527.6 C 1529.6 1531.3 1535.4 1535.9 1541.2 1539.9 C 1547 1543.9 1552.4 1548.3 1558.6 1551.5 C 1564.8 1554.6 1571.8 1556.9 1578.4 1558.8 C 1585 1560.7 1591.7 1561.3 1598.3 1563 C 1604.9 1564.7 1611.5 1567 1618.1 1568.8 C 1624.7 1570.6 1631.3 1572.7 1637.9 1574 C 1644.5 1575.4 1651.1 1575.9 1657.8 1576.7 C 1664.4 1577.4 1670.8 1577.9 1677.6 1578.5 C 1684.4 1579.1 1692 1580.7 1698.7 1580.3 C 1705.3 1580 1710.9 1578 1717.3 1576.7 C 1723.7 1575.3 1730.6 1573.5 1737.2 1572.2 C 1743.8 1570.9 1750.4 1570.3 1757 1568.8 C 1763.6 1567.3 1770.2 1565.3 1776.8 1563 C 1783.4 1560.7 1790 1557.2 1796.7 1554.9 C 1803.3 1552.5 1809.9 1550.7 1816.5 1548.8 C 1823.1 1547 1830.2 1546.2 1836.4 1543.8 C 1842.6 1541.5 1846.5 1538 1853.7 1534.9 C 1860.9 1531.8 1870.4 1529.3 1879.7 1525.2 C 1889 1521.1 1899.6 1515.7 1909.5 1510.2 C 1919.4 1504.8 1929.4 1497.1 1939.3 1492.4 C 1949.2 1487.6 1959.2 1486.6 1969.1 1481.9 C 1979 1477.1 1988.9 1469.2 1998.8 1464 C 2008.7 1458.8 2018.6 1456 2028.6 1450.6 C 2038.5 1445.2 2048.4 1438.4 2058.3 1431.5 C 2068.3 1424.5 2078.2 1416.4 2088.1 1409.1 C 2098 1401.9 2107.9 1394.8 2117.8 1388.1 C 2127.7 1381.4 2137.7 1375.4 2147.6 1369 C 2157.5 1362.5 2167.5 1356.2 2177.4 1349.5 C 2187.3 1342.8 2198.7 1334.2 2207.2 1328.8 C 2215.6 1323.3 2222.5 1320.9 2228 1316.7 C 2233.5 1312.4 2237 1306.2 2239.9 1303.3 C 2242.8 1300.4 2244.7 1299.8 2245.6 1299.1" fill="none" stroke="#5f56ae" stroke-width="4.6" stroke-dasharray="13.5 7.5"/>
<path d="M 1382.5 1955.6 C 1384.7 1952.7 1391.3 1947.5 1395.9 1938 C 1400.4 1928.5 1405.5 1912.9 1409.7 1898.4 C 1414 1883.8 1417.3 1865.7 1421.6 1850.8 C 1425.9 1835.9 1431.9 1824.3 1435.6 1809.1 C 1439.2 1793.8 1440.5 1774 1443.5 1759.4 C 1446.4 1744.9 1450.1 1725.2 1453.4 1721.9 C 1456.7 1718.6 1461 1735.1 1463.3 1739.7 C 1465.6 1744.4 1465.7 1744.8 1467.3 1749.7 C 1469 1754.7 1471.3 1760.2 1473.2 1769.4 C 1475.2 1778.7 1476.9 1795.2 1479.2 1805.1 C 1481.5 1815.1 1483.8 1820.1 1487.1 1829 C 1490.4 1838 1495.4 1851.8 1499.1 1858.7 C 1502.7 1865.6 1505 1867.5 1508.9 1870.5 C 1512.9 1873.5 1518.2 1877.5 1522.9 1876.6 C 1527.5 1875.6 1533.1 1871 1536.7 1864.7 C 1540.4 1858.5 1542.1 1846.6 1544.7 1839 C 1547.3 1831.4 1550.9 1826 1552.6 1819 C 1554.2 1812.1 1553.6 1803.9 1554.6 1797.3 C 1555.6 1790.6 1556.3 1784.7 1558.6 1779.4 C 1560.9 1774.1 1565.2 1769.1 1568.5 1765.5 C 1571.8 1761.8 1573.8 1757.9 1578.4 1757.6 C 1583.1 1757.2 1592 1763.7 1596.3 1763.4 C 1600.6 1763 1601.2 1759.4 1604.2 1755.5 C 1607.2 1751.6 1610.8 1744.7 1614.1 1739.7 C 1617.4 1734.8 1621.7 1730.8 1624 1725.8 C 1626.4 1720.8 1625.7 1714.2 1628 1709.8 C 1630.3 1705.4 1631.2 1697.9 1637.9 1699.6 C 1644.6 1701.3 1657.7 1720.2 1668.3 1720 C 1678.9 1719.9 1693.7 1698.9 1701.4 1698.8 C 1709.2 1698.6 1708.7 1713.1 1714.8 1719.3 C 1720.9 1725.4 1730.5 1734.4 1738 1735.5 C 1745.6 1736.6 1755 1727.8 1760 1725.8 C 1765 1723.9 1765 1722.7 1767.9 1723.7 C 1770.9 1724.7 1775.6 1727.2 1777.9 1731.9 C 1780.2 1736.5 1779.5 1746 1781.8 1751.6 C 1784.1 1757.2 1787.4 1760.8 1791.7 1765.5 C 1796 1770.1 1803.7 1777.7 1807.6 1779.4 C 1811.6 1781.1 1812.9 1778.4 1815.5 1775.5 C 1818.2 1772.5 1820.5 1766.2 1823.5 1761.5 C 1826.5 1756.9 1830.1 1748.6 1833.4 1747.6 C 1836.7 1746.6 1840 1749.5 1843.3 1755.5 C 1846.6 1761.5 1851 1775.7 1853.3 1783.3 C 1855.6 1790.9 1854.9 1795.9 1857.2 1801.2 C 1859.5 1806.5 1863.8 1813.4 1867.1 1815.1 C 1870.4 1816.8 1873.8 1817.1 1877.1 1811.2 C 1880.4 1805.2 1884.7 1788 1887 1779.4 C 1889.3 1770.8 1888.3 1767.4 1890.9 1759.4 C 1893.6 1751.5 1899.8 1738.5 1902.8 1731.9 C 1905.8 1725.3 1906.2 1721.1 1908.8 1719.8 C 1911.5 1718.4 1915.1 1721.1 1918.7 1723.7 C 1922.4 1726.4 1926.7 1735.1 1930.6 1735.8 C 1934.6 1736.5 1939.1 1733.2 1942.5 1727.7 C 1946 1722.1 1947.6 1714 1951.3 1702.7 C 1955 1691.5 1959.9 1668.5 1964.7 1660.2 C 1969.5 1651.8 1973.7 1648.1 1980.2 1652.6 C 1986.6 1657.1 1996.9 1685.7 2003.4 1687.2 C 2010 1688.7 2014.2 1670.8 2019.6 1661.5 C 2025 1652.2 2028.5 1629.2 2035.8 1631.3 C 2043.1 1633.3 2054.8 1672.3 2063.3 1673.8 C 2071.7 1675.4 2080 1653 2086.5 1640.7 C 2093 1628.5 2096.8 1603.5 2102 1600.3 C 2107.2 1597.1 2112 1614.2 2117.5 1621.6 C 2123 1629 2129 1649.2 2135.1 1644.7 C 2141.2 1640.2 2148.3 1606.7 2154.1 1594.5 C 2159.8 1582.3 2163.1 1568.2 2169.6 1571.4 C 2176 1574.7 2186.1 1613.4 2192.8 1614 C 2199.5 1614.5 2204.5 1589 2209.7 1574.8 C 2214.9 1560.6 2219.6 1537.2 2223.8 1528.9 C 2228 1520.6 2229.3 1518.5 2235 1524.9 C 2240.8 1531.4 2251.4 1567.9 2258.3 1567.5 C 2265.2 1567 2271.3 1535.2 2276.6 1522.3 C 2281.9 1509.4 2284.7 1492.5 2290 1490.3 C 2295.2 1488.1 2302.5 1502.1 2308.3 1509.2 C 2314 1516.3 2317.9 1540.5 2324.5 1532.8 C 2331 1525.2 2340.9 1479 2347.7 1463.2 C 2354.5 1447.5 2358.5 1437.6 2365.3 1438.3 C 2372.1 1438.9 2381.8 1468.1 2388.5 1467.2 C 2395.2 1466.2 2400 1443.4 2405.4 1432.5 C 2410.8 1421.6 2415.4 1405.7 2420.9 1401.5 C 2426.4 1397.3 2435.6 1406.3 2438.5 1407.3" fill="none" stroke="#5f56ae" stroke-width="4.6" stroke-dasharray="13.5 7.5"/>
<path d="M 1382.5 1956.9 C 1391.3 1955.4 1418.8 1951.1 1435.6 1948 C 1452.4 1944.8 1468.6 1936.5 1483.2 1938 C 1497.7 1939.5 1511 1956.3 1522.9 1956.9 C 1534.8 1957.6 1543.7 1946.7 1554.6 1941.9 C 1565.5 1937.2 1578.4 1932.9 1588.3 1928.3 C 1598.3 1923.7 1608.2 1918.7 1614.1 1914.4 C 1620.1 1910 1619.4 1908.2 1624 1902.3 C 1628.7 1896.3 1636.3 1884.9 1641.9 1878.7 C 1647.5 1872.4 1651.8 1864.1 1657.8 1864.7 C 1663.7 1865.4 1672.3 1877 1677.6 1882.6 C 1682.9 1888.2 1685.5 1891.7 1689.5 1898.4 C 1693.5 1905 1696.8 1913.6 1701.4 1922.2 C 1706 1930.9 1711.4 1946.1 1717.3 1950.1 C 1723.3 1954.1 1730.6 1951.4 1737.2 1946.1 C 1743.8 1940.9 1751.2 1928.2 1757 1918.3 C 1762.7 1908.4 1766.4 1894.8 1771.9 1886.5 C 1777.4 1878.3 1784.1 1874.6 1789.8 1868.7 C 1795.4 1862.7 1800.6 1857.1 1805.6 1850.8 C 1810.6 1844.5 1815.6 1837.5 1819.5 1830.9 C 1823.5 1824.3 1826.2 1816.8 1829.5 1811.2 C 1832.8 1805.6 1835.8 1801.2 1839.4 1797.3 C 1843 1793.3 1847.7 1789.9 1851.3 1787.3 C 1854.9 1784.6 1857.6 1780.6 1861.2 1781.2 C 1864.9 1781.9 1869.5 1787.9 1873.1 1791.2 C 1876.8 1794.5 1880.1 1797.2 1883 1801.2 C 1886 1805.2 1887 1810.8 1890.9 1815.1 C 1894.9 1819.4 1902.9 1824.6 1906.8 1826.9 C 1910.8 1829.2 1912.2 1829 1914.8 1829 C 1917.4 1829 1918.7 1829.6 1922.7 1826.9 C 1926.6 1824.3 1934.6 1819.9 1938.6 1813 C 1942.6 1806.1 1943.8 1793.4 1946.5 1785.4 C 1949.1 1777.5 1951.8 1772.8 1954.4 1765.5 C 1957.1 1758.2 1959.1 1747.5 1962.4 1741.6 C 1965.7 1735.6 1970.6 1730.1 1974.3 1729.8 C 1977.9 1729.5 1981.2 1735.8 1984.2 1739.7 C 1987.2 1743.7 1989.5 1749 1992.2 1753.7 C 1994.8 1758.3 1997.7 1764.6 2000 1767.6 C 2002.4 1770.6 2003.4 1772.2 2006 1771.5 C 2008.7 1770.8 2013 1766.7 2016 1763.4 C 2018.9 1760.1 2020.9 1756.8 2023.9 1751.6 C 2026.9 1746.3 2030.9 1737.8 2033.8 1731.9 C 2036.8 1725.9 2039.4 1719.2 2041.7 1715.8 C 2044 1712.5 2045.1 1711.6 2047.7 1711.9 C 2050.4 1712.3 2054.7 1715.3 2057.6 1717.9 C 2060.6 1720.6 2063.5 1723.7 2065.5 1727.7 C 2067.5 1731.6 2067.5 1737.2 2069.5 1741.6 C 2071.5 1745.9 2074.5 1749.7 2077.5 1753.7 C 2080.5 1757.6 2084.1 1762.9 2087.4 1765.5 C 2090.7 1768.1 2093.7 1770.1 2097.3 1769.4 C 2100.9 1768.8 2105.2 1764.3 2109 1761.5 C 2112.7 1758.7 2116.2 1752.9 2119.8 1752.6 C 2123.4 1752.3 2127.4 1755.8 2130.7 1759.7 C 2134 1763.6 2136.7 1771.1 2139.7 1776 C 2142.7 1780.8 2145.5 1784.6 2148.8 1788.8 C 2152.1 1793.1 2155.4 1800 2159.6 1801.5 C 2163.9 1802.9 2169.9 1799.6 2174.1 1797.8 C 2178.4 1795.9 2181.1 1791.7 2185 1790.4 C 2188.9 1789.2 2194 1787.4 2197.7 1790.4 C 2201.3 1793.4 2203.4 1801.9 2206.7 1808.5 C 2210.1 1815.2 2214.3 1824 2217.6 1830.3 C 2220.9 1836.7 2223.7 1841.5 2226.7 1846.6 C 2229.7 1851.7 2232.4 1856.5 2235.7 1861.1 C 2239 1865.6 2242.7 1870.3 2246.6 1873.9 C 2250.5 1877.6 2255 1882.3 2259.3 1882.9 C 2263.5 1883.4 2267.4 1880.7 2271.9 1877.3 C 2276.5 1874 2282.5 1866.8 2286.4 1862.9 C 2290.4 1859 2292.1 1856.4 2295.4 1854 C 2298.8 1851.6 2303 1848.5 2306.4 1848.5 C 2309.7 1848.5 2312.4 1851.3 2315.4 1854 C 2318.4 1856.7 2321.7 1860.2 2324.5 1864.7 C 2327.2 1869.2 2329 1876.5 2331.7 1881 C 2334.4 1885.6 2337.4 1887.5 2340.7 1892.1 C 2344 1896.6 2347.4 1903.5 2351.6 1908.3 C 2355.9 1913.1 2361.5 1919.1 2366.1 1920.9 C 2370.6 1922.7 2374.5 1920 2378.7 1919.1 C 2383 1918.2 2387.5 1917.5 2391.4 1915.4 C 2395.3 1913.3 2399 1911 2402.3 1906.5 C 2405.6 1902 2408.3 1895 2411.3 1888.4 C 2414.3 1881.7 2417.4 1872 2420.4 1866.6 C 2423.4 1861.2 2426.4 1859.8 2429.4 1855.8 C 2432.4 1851.9 2437 1845.1 2438.5 1842.9" fill="none" stroke="#ff4a4a" stroke-width="5.4" stroke-dasharray="14 7.5" opacity="0.85"/>
<path d="M 1382.5 1746.6 C 1387.4 1748.1 1401.9 1753.4 1411.7 1755.5 C 1421.5 1757.6 1434.5 1756.8 1441.5 1759.4 C 1448.4 1762.1 1448.4 1767.5 1453.4 1771.5 C 1458.4 1775.5 1464 1779.2 1471.3 1783.3 C 1478.5 1787.4 1489.1 1794.5 1497 1796.2 C 1505 1797.9 1512.2 1793.8 1518.9 1793.3 C 1525.5 1792.8 1531.1 1790.3 1536.7 1793.3 C 1542.4 1796.3 1549.6 1806.9 1552.6 1811.2 C 1555.6 1815.5 1551.6 1814.8 1554.6 1819 C 1557.6 1823.3 1567.2 1832.3 1570.5 1836.9 C 1573.8 1841.5 1571.4 1842.9 1574.4 1846.9 C 1577.4 1850.9 1585.4 1856.9 1588.3 1860.8 C 1591.3 1864.7 1589 1866.2 1592.3 1870.5 C 1595.6 1874.8 1605.2 1882.6 1608.2 1886.5 C 1611.2 1890.5 1607.5 1890.4 1610.2 1894.4 C 1612.8 1898.4 1621.1 1905.5 1624 1910.4 C 1627 1915.4 1624.7 1917.8 1628 1924.1 C 1631.3 1930.3 1640.9 1941.7 1643.9 1948 C 1646.9 1954.3 1643.6 1958.8 1645.9 1961.9 C 1648.2 1965.1 1654.5 1966.9 1657.8 1966.9 C 1661.1 1966.9 1663.7 1964.4 1665.7 1961.9 C 1667.7 1959.4 1666.4 1957.2 1669.7 1951.9 C 1673 1946.6 1682.6 1936.7 1685.6 1930.1 C 1688.6 1923.5 1684.9 1918.2 1687.5 1912.3 C 1690.2 1906.3 1698.1 1899.7 1701.4 1894.4 C 1704.7 1889.1 1704.1 1884.1 1707.4 1880.5 C 1710.7 1876.9 1716.3 1872.6 1721.3 1872.6 C 1726.2 1872.6 1732.9 1877.5 1737.2 1880.5 C 1741.5 1883.5 1745 1886.8 1747 1890.5 C 1749 1894.1 1746.9 1899 1749.1 1902.3 C 1751.2 1905.6 1757.5 1906.5 1760 1910.4 C 1762.5 1914.4 1761.3 1922.2 1764 1926.2 C 1766.6 1930.1 1772.6 1931.1 1775.9 1934.1 C 1779.2 1937 1781.1 1942 1783.8 1944 C 1786.4 1946.1 1787.8 1947.2 1791.7 1946.1 C 1795.7 1945.1 1803 1940.7 1807.6 1938 C 1812.3 1935.3 1816.2 1931.7 1819.5 1930.1 C 1822.8 1928.5 1824.1 1927 1827.4 1928.3 C 1830.7 1929.6 1836.1 1935 1839.4 1938 C 1842.7 1941 1845.3 1943.2 1847.3 1946.1 C 1849.3 1949.1 1848.6 1952.9 1851.3 1955.9 C 1853.9 1958.8 1859.9 1963.7 1863.2 1964 C 1866.5 1964.4 1867.8 1961.6 1871.1 1958 C 1874.4 1954.3 1880.4 1947.9 1883 1941.9 C 1885.7 1936 1884.3 1927.5 1887 1922.2 C 1889.6 1917 1895.9 1915.1 1898.9 1910.4 C 1901.9 1905.8 1902.2 1897.7 1904.9 1894.4 C 1907.5 1891.1 1911.5 1890.5 1914.8 1890.5 C 1918.1 1890.5 1922 1892.1 1924.7 1894.4 C 1927.3 1896.7 1927.7 1901.1 1930.6 1904.4 C 1933.6 1907.7 1939.9 1910.7 1942.5 1914.4 C 1945.2 1918 1943.8 1920.6 1946.5 1926.2 C 1949.1 1931.8 1954.8 1940.1 1958.4 1948 C 1962.1 1955.9 1965.3 1969.4 1968.3 1973.7 C 1971.3 1978 1973.9 1976.3 1976.3 1973.7 C 1978.6 1971.1 1979.3 1963.3 1982.2 1958 C 1985.2 1952.7 1991.2 1947.6 1994.1 1941.9 C 1997.1 1936.3 1997.7 1928 2000 1924.1 C 2002.4 1920.1 2005 1918 2008 1918.3 C 2011 1918.7 2014.6 1922.2 2017.9 1926.2 C 2021.2 1930.1 2024.9 1936.6 2027.9 1941.9 C 2030.8 1947.2 2032.5 1952.7 2035.8 1958 C 2039.1 1963.3 2044.1 1973.1 2047.7 1973.7 C 2051.3 1974.4 2054.3 1966.2 2057.6 1961.9 C 2060.9 1957.6 2064.9 1952.6 2067.6 1948 C 2070.2 1943.3 2070.5 1937.3 2073.5 1934.1 C 2076.4 1930.8 2081.9 1928.7 2085.4 1928.3 C 2088.9 1927.9 2091.7 1929.6 2094.5 1931.7 C 2097.2 1933.8 2100.2 1937.9 2101.7 1940.9 C 2103.2 1943.9 2101.1 1945.9 2103.5 1949.8 C 2106 1953.7 2113.2 1960.9 2116.2 1964.3 C 2119.2 1967.6 2118.9 1969.8 2121.6 1969.8 C 2124.4 1969.8 2129.8 1967.6 2132.5 1964.3 C 2135.3 1960.9 2135.6 1954 2138 1949.8 C 2140.4 1945.6 2144 1943 2147 1939.1 C 2150 1935.2 2153.3 1928.9 2156.1 1926.5 C 2158.8 1924 2161.2 1924 2163.3 1924.6 C 2165.4 1925.2 2167.2 1927.5 2168.7 1929.9 C 2170.2 1932.3 2170.2 1936 2172.3 1939.1 C 2174.4 1942.1 2179 1944.7 2181.4 1948 C 2183.8 1951.3 2184.7 1955.7 2186.8 1959 C 2188.9 1962.3 2191.7 1966.1 2194.1 1967.9 C 2196.5 1969.7 2199.5 1971 2201.3 1969.8 C 2203.1 1968.6 2202.2 1964.8 2204.9 1960.9 C 2207.6 1956.9 2214.9 1951.6 2217.6 1946.1 C 2220.3 1940.7 2219.1 1933.1 2221.2 1928 C 2223.4 1922.9 2227.5 1919.9 2230.3 1915.4 C 2233 1910.9 2235.4 1904.3 2237.5 1901 C 2239.6 1897.7 2240.8 1896.7 2242.9 1895.5 C 2245 1894.2 2247.5 1892.7 2250.2 1893.6 C 2252.9 1894.5 2256.2 1898.5 2259.3 1901 C 2262.3 1903.4 2265.6 1905 2268.3 1908.3 C 2271 1911.7 2272.8 1917 2275.5 1920.9 C 2278.2 1924.8 2282.5 1927.8 2284.6 1931.7 C 2286.7 1935.6 2286.1 1940.4 2288.2 1944.3 C 2290.3 1948.2 2294.3 1952.6 2297.3 1955.3 C 2300.3 1958.1 2303 1960.5 2306.4 1960.9 C 2309.7 1961.2 2313.6 1960.2 2317.2 1957.2 C 2320.8 1954.2 2325.6 1946.7 2328 1942.7 C 2330.5 1938.8 2329.6 1936 2331.7 1933.5 C 2333.8 1931.1 2338 1931 2340.7 1928 C 2343.4 1925 2345.2 1919 2348 1915.4 C 2350.7 1911.8 2353.4 1908.9 2357 1906.5 C 2360.7 1904.1 2365.5 1901.3 2369.7 1901 C 2373.9 1900.7 2379.4 1902.6 2382.4 1904.7 C 2385.4 1906.8 2385.1 1910.3 2387.8 1913.6 C 2390.5 1916.9 2395.6 1920.7 2398.7 1924.6 C 2401.7 1928.6 2403.2 1934.2 2405.9 1937.2 C 2408.6 1940.2 2412 1941.6 2415 1942.7 C 2418 1943.9 2420.1 1944.6 2424 1944.3 C 2427.9 1944 2436.1 1941.5 2438.5 1940.9" fill="none" stroke="#3c3a86" stroke-width="4.3" stroke-linejoin="round"/>
<path d="M 1382.5 1748.1 C 1385.4 1752 1394.6 1761.7 1399.8 1771.5 C 1405 1781.4 1411.3 1795.3 1413.8 1807.2 C 1416.2 1819.1 1412.4 1832.7 1414.7 1842.9 C 1417.1 1853.2 1424.2 1859.4 1427.6 1868.7 C 1431.1 1877.9 1433.9 1885.4 1435.6 1898.4 C 1437.2 1911.3 1435.6 1933.6 1437.6 1946.1 C 1439.5 1958.7 1444.8 1964.5 1447.5 1973.7 C 1450.1 1983 1450.4 2000.9 1453.4 2001.6 C 1456.4 2002.2 1462.3 1986.6 1465.3 1977.7 C 1468.3 1968.7 1469.6 1961.2 1471.3 1948 C 1472.9 1934.8 1472.9 1910.6 1475.2 1898.4 C 1477.5 1886.1 1481.8 1885 1485.1 1874.7 C 1488.5 1864.5 1491.4 1843.7 1495.1 1836.9 C 1498.7 1830.1 1503.3 1834 1507 1834 C 1510.6 1834 1514.2 1834.5 1516.9 1836.9 C 1519.5 1839.4 1521.2 1845.1 1522.9 1848.7 C 1524.5 1852.4 1524.2 1854.4 1526.8 1858.7 C 1529.5 1863 1536.4 1866.8 1538.7 1874.7 C 1541 1882.6 1538.7 1898 1540.7 1906.2 C 1542.7 1914.5 1548.3 1917.8 1550.6 1924.1 C 1552.9 1930.4 1553.6 1937.1 1554.6 1944 C 1555.6 1951 1554.3 1958.9 1556.6 1965.8 C 1558.9 1972.8 1565.5 1984.5 1568.5 1985.8 C 1571.5 1987.1 1571.8 1978.4 1574.4 1973.7 C 1577.1 1969.1 1581.7 1965.5 1584.3 1958 C 1587 1950.4 1588.3 1935.2 1590.3 1928.3 C 1592.3 1921.3 1594 1918.5 1596.3 1916.2 C 1598.6 1913.9 1601.9 1912.4 1604.2 1914.4 C 1606.5 1916.4 1607.5 1924.4 1610.2 1928.3 C 1612.8 1932.2 1617.8 1933.1 1620.1 1938 C 1622.4 1943 1622.7 1950 1624 1958 C 1625.4 1965.9 1625.7 1979.5 1628 1985.8 C 1630.3 1992.1 1634.9 1996.2 1637.9 1995.5 C 1640.9 1994.9 1644.2 1988.1 1645.9 1981.9 C 1647.5 1975.6 1645.9 1965.3 1647.8 1958 C 1649.8 1950.7 1654.8 1944.6 1657.8 1938 C 1660.7 1931.4 1662.4 1920.3 1665.7 1918.3 C 1669 1916.3 1674.6 1923.6 1677.6 1926.2 C 1680.6 1928.8 1682.3 1928.8 1683.6 1934.1 C 1684.9 1939.4 1684.3 1950 1685.6 1958 C 1686.9 1965.9 1688.5 1975.9 1691.5 1981.9 C 1694.5 1987.8 1700.4 1994.4 1703.4 1993.7 C 1706.4 1993 1707 1984.3 1709.4 1977.7 C 1711.7 1971 1715.3 1960.6 1717.3 1954 C 1719.3 1947.4 1720 1943.7 1721.3 1938 C 1722.6 1932.4 1722.6 1923.4 1725.2 1920.1 C 1727.9 1916.9 1733.9 1917 1737.2 1918.3 C 1740.5 1919.7 1742.4 1924 1745.1 1928.3 C 1747.7 1932.6 1750.4 1937.1 1753 1944 C 1755.7 1951 1759.1 1962.2 1761 1969.8 C 1762.8 1977.4 1761.5 1987.4 1764 1989.7 C 1766.5 1992.1 1772.9 1989 1775.9 1983.7 C 1778.9 1978.4 1780.2 1964.9 1781.8 1958 C 1783.5 1951 1783.2 1948.9 1785.8 1941.9 C 1788.5 1935 1793.8 1919.8 1797.7 1916.2 C 1801.7 1912.6 1806.6 1917.5 1809.6 1920.1 C 1812.6 1922.8 1814.2 1926.9 1815.5 1932.2 C 1816.9 1937.5 1815.9 1946.3 1817.6 1951.9 C 1819.2 1957.5 1822.8 1959.5 1825.5 1965.8 C 1828.1 1972.1 1830.4 1986.8 1833.4 1989.7 C 1836.4 1992.7 1840.7 1988 1843.3 1983.7 C 1846 1979.4 1847.6 1970.3 1849.3 1964 C 1850.9 1957.7 1850.6 1953.1 1853.3 1946.1 C 1855.9 1939.2 1862.2 1927.2 1865.2 1922.2 C 1868.1 1917.3 1868.4 1915.9 1871.1 1916.2 C 1873.7 1916.5 1878.7 1918.8 1881 1924.1 C 1883.3 1929.4 1882.7 1941 1885 1948 C 1887.3 1954.9 1891.6 1958.9 1894.9 1965.8 C 1898.3 1972.8 1901.6 1988.4 1904.9 1989.7 C 1908.2 1991.1 1911.8 1979 1914.8 1973.7 C 1917.8 1968.4 1920.7 1965.5 1922.7 1958 C 1924.7 1950.4 1924 1935.2 1926.7 1928.3 C 1929.3 1921.3 1935.6 1916.9 1938.6 1916.2 C 1941.6 1915.5 1942.5 1921.1 1944.5 1924.1 C 1946.5 1927.1 1947.8 1928.4 1950.5 1934.1 C 1953.1 1939.7 1958.1 1950 1960.4 1958 C 1962.7 1965.9 1962 1975.9 1964.4 1981.9 C 1966.7 1987.8 1971.3 1993.7 1974.3 1993.7 C 1977.3 1993.7 1980.6 1987.8 1982.2 1981.9 C 1983.9 1975.9 1981.9 1965.3 1984.2 1958 C 1986.5 1950.7 1993.5 1944.6 1996.1 1938 C 1998.7 1931.4 1997.4 1921.3 2000 1918.3 C 2002.7 1915.3 2009 1917.5 2012 1920.1 C 2015 1922.8 2016.6 1928.4 2017.9 1934.1 C 2019.2 1939.7 2018.2 1948.1 2019.9 1954 C 2021.6 1960 2025.2 1963.2 2027.9 1969.8 C 2030.5 1976.4 2032.8 1991.7 2035.8 1993.7 C 2038.8 1995.7 2043.1 1986.5 2045.7 1981.9 C 2048.4 1977.2 2050.3 1972.1 2051.7 1965.8 C 2053 1959.5 2050.6 1951.7 2053.6 1944 C 2056.6 1936.4 2065.2 1923.1 2069.5 1920.1 C 2073.8 1917.2 2076.8 1920.6 2079.5 1926.2 C 2082.1 1931.7 2083.5 1945 2085.4 1953.5 C 2087.3 1962 2088.2 1970.5 2090.9 1977.1 C 2093.6 1983.8 2098.1 1993.4 2101.7 1993.4 C 2105.3 1993.4 2110.2 1981.4 2112.6 1977.1 C 2115 1972.9 2115.3 1974.9 2116.2 1967.9 C 2117.1 1961 2116.2 1942.9 2118 1935.4 C 2119.8 1927.9 2124 1925.5 2127.1 1922.8 C 2130.1 1920.1 2134 1918.2 2136.1 1919.1 C 2138.2 1920 2137.9 1924.7 2139.7 1928 C 2141.5 1931.4 2144.9 1935.4 2147 1939.1 C 2149.1 1942.7 2150.9 1943.8 2152.4 1949.8 C 2153.9 1955.9 2153.6 1968 2156.1 1975.3 C 2158.5 1982.6 2163.9 1992.8 2166.9 1993.4 C 2169.9 1994 2171.7 1983.9 2174.1 1978.7 C 2176.6 1973.5 2179.6 1970 2181.4 1962.4 C 2183.2 1954.9 2183.2 1939.8 2185 1933.5 C 2186.8 1927.2 2189.5 1926.7 2192.2 1924.6 C 2195 1922.5 2199.2 1919.1 2201.3 1920.9 C 2203.4 1922.7 2202.8 1931.5 2204.9 1935.4 C 2207 1939.3 2211.6 1940.4 2214 1944.3 C 2216.4 1948.2 2217.9 1953 2219.4 1959 C 2220.9 1965.1 2221.2 1974.8 2223 1980.5 C 2224.8 1986.3 2227.8 1994 2230.3 1993.4 C 2232.7 1992.8 2235.4 1982.3 2237.5 1977.1 C 2239.6 1972 2240.5 1968.5 2242.9 1962.4 C 2245.3 1956.4 2250.2 1947.2 2252 1940.9 C 2253.8 1934.6 2251.4 1927.9 2253.8 1924.6 C 2256.3 1921.3 2263.5 1919.1 2266.5 1920.9 C 2269.5 1922.7 2269.8 1930.6 2271.9 1935.4 C 2274 1940.2 2276.8 1945.3 2279.2 1949.8 C 2281.6 1954.3 2284.6 1956.7 2286.4 1962.4 C 2288.2 1968.2 2288.2 1979.1 2290 1984.2 C 2291.8 1989.4 2294.6 1993.4 2297.3 1993.4 C 2300 1993.4 2304.7 1989.4 2306.4 1984.2 C 2308 1979.1 2305.7 1969.3 2307.2 1962.4 C 2308.7 1955.5 2312.2 1949 2315.4 1942.7 C 2318.5 1936.4 2322.9 1926.5 2326.2 1924.6 C 2329.5 1922.8 2332.3 1927.5 2335.3 1931.7 C 2338.3 1935.9 2342.3 1943.2 2344.4 1949.8 C 2346.5 1956.5 2345.9 1965.9 2348 1971.6 C 2350.1 1977.4 2354.6 1981.2 2357 1984.2 C 2359.5 1987.2 2361 1991.8 2362.5 1989.7 C 2364 1987.6 2363.6 1978 2366.1 1971.6 C 2368.5 1965.3 2374 1957.4 2377 1951.7 C 2380 1945.9 2382.3 1941.4 2384.2 1937.2 C 2386 1933 2385.7 1928 2387.8 1926.5 C 2389.9 1924.9 2394.1 1924.7 2396.8 1928 C 2399.5 1931.3 2401.4 1940.7 2404.1 1946.1 C 2406.8 1951.6 2410.4 1954.5 2413.2 1960.9 C 2415.9 1967.2 2418.6 1979.4 2420.4 1984.2 C 2422.2 1989 2421.6 1990.9 2424 1989.7 C 2426.4 1988.6 2432.5 1983.8 2434.9 1977.1 C 2437.3 1970.5 2437.9 1954.4 2438.5 1949.8" fill="none" stroke="#ff4a4a" stroke-width="4.2" stroke-linejoin="round" opacity="0.8"/>
<line x1="1433" y1="1681" x2="1402" y2="1769.8" stroke="#c84848" stroke-width="3.2" />
<line x1="1493" y1="1686.7" x2="1464" y2="1740.8" stroke="#c84848" stroke-width="3.2" />
<line x1="1553.7" y1="1686.7" x2="1523.9" y2="1791.1" stroke="#c84848" stroke-width="3.2" />
<line x1="2212.1" y1="1733.1" x2="2189" y2="1785.3" stroke="#c84848" stroke-width="3.2" />
<line x1="2252.7" y1="1468.2" x2="2223.7" y2="1528.2" stroke="#c84848" stroke-width="3.2" />
<text transform="translate(1425.6 1666.3) scale(0.9546 1)" font-family="'Liberation Sans', Arial, sans-serif" font-weight="normal" font-size="27.29" fill="#555" stroke="#555" stroke-width="1.2" stroke-linejoin="round" >r</text><text transform="translate(1432.6 1675.7) scale(0.9824 1)" font-family="'Liberation Sans', Arial, sans-serif" font-weight="normal" font-size="27.59" fill="#555" stroke="#555" stroke-width="1.2" stroke-linejoin="round" >1</text>
<text transform="translate(1491.5 1669.6) scale(1.0245 1)" font-family="'Liberation Sans', Arial, sans-serif" font-weight="normal" font-size="30.33" fill="#555" stroke="#555" stroke-width="1.2" stroke-linejoin="round" >r</text><text transform="translate(1500.5 1679.9) scale(1.0128 1)" font-family="'Liberation Sans', Arial, sans-serif" font-weight="normal" font-size="30.17" fill="#555" stroke="#555" stroke-width="1.2" stroke-linejoin="round" >2</text>
<text transform="translate(1549.7 1672.8) scale(0.9930 1)" font-family="'Liberation Sans', Arial, sans-serif" font-weight="normal" font-size="30.68" fill="#555" stroke="#555" stroke-width="1.2" stroke-linejoin="round" >r</text><text transform="translate(1558.9 1682.9) scale(0.9551 1)" font-family="'Liberation Sans', Arial, sans-serif" font-weight="normal" font-size="30.08" fill="#555" stroke="#555" stroke-width="1.2" stroke-linejoin="round" >3</text>
<text transform="translate(2207.3 1718.1) scale(0.9830 1)" font-family="'Liberation Sans', Arial, sans-serif" font-weight="normal" font-size="24.96" fill="#555" stroke="#555" stroke-width="1.2" stroke-linejoin="round" >r</text><text transform="translate(2215.4 1726.7) scale(0.8737 1)" font-family="'Liberation Sans', Arial, sans-serif" font-weight="normal" font-size="25.28" fill="#555" stroke="#555" stroke-width="1.2" stroke-linejoin="round" >4</text>
<text transform="translate(2251.3 1453.2) scale(1.2323 1)" font-family="'Liberation Sans', Arial, sans-serif" font-weight="normal" font-size="24.84" fill="#555" stroke="#555" stroke-width="1.2" stroke-linejoin="round" >r</text><text transform="translate(2260.2 1461.8) scale(1.2152 1)" font-family="'Liberation Sans', Arial, sans-serif" font-weight="normal" font-size="24.80" fill="#555" stroke="#555" stroke-width="1.2" stroke-linejoin="round" >2</text>
</g>
</svg>
</body></html>
